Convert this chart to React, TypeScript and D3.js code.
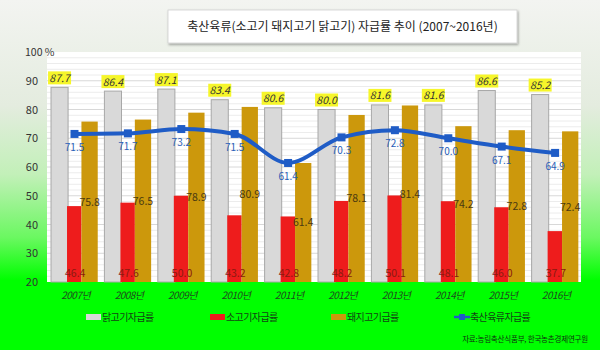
import React from 'react';
import * as d3 from 'd3';

const years = ['2007년', '2008년', '2009년', '2010년', '2011년', '2012년', '2013년', '2014년', '2015년', '2016년'];
const chicken = [87.7, 86.4, 87.1, 83.4, 80.6, 80.0, 81.6, 81.6, 86.6, 85.2];
const beef = [46.4, 47.6, 50.0, 43.2, 42.8, 48.2, 50.1, 48.1, 46.0, 37.7];
const pork = [75.8, 76.5, 78.9, 80.9, 61.4, 78.1, 81.4, 74.2, 72.8, 72.4];
const total = [71.5, 71.7, 73.2, 71.5, 61.4, 70.3, 72.8, 70.0, 67.1, 64.9];
const yTicks = [20, 30, 40, 50, 60, 70, 80, 90, 100];
const legendNames = ['닭고기자급률', '소고기자급률', '돼지고기급률', '축산육류자급률'];
const title = '축산육류(소고기 돼지고기 닭고기) 자급률 추이 (2007~2016년)';
const source = '자료:농림축산식품부, 한국농촌경제연구원';

const FONT = '"Noto Sans CJK KR", "Noto Sans", sans-serif';
const C_GRAY = '#d9d9d9';
const C_RED = '#ee1c1c';
const C_GOLD = '#cc980c';
const C_BLUE = '#1f5cc6';

export default function App() {
  const W = 600, H = 356;
  const left = 47, right = 581, top = 52, bottom = 282;
  const x = d3.scaleBand<string>().domain(years).range([left, right]).padding(0);
  const y = d3.scaleLinear().domain([20, 100]).range([bottom, top]);
  const bw = x.bandwidth();
  const grayOff = bw * 0.075, grayW = bw * 0.32;
  const redOff = bw * 0.375, redW = bw * 0.27;
  const goldOff = bw * 0.645, goldW = bw * 0.305;
  const lineOff = bw * 0.515;
  const gridVals = d3.range(22, 100, 2);
  const line = d3.line<number>()
    .x((_, i) => (x(years[i]) as number) + lineOff)
    .y((d) => y(d))
    .curve(d3.curveMonotoneX);

  const legendX = [86, 210, 331, 454];
  const legendColors = [C_GRAY, C_RED, C_GOLD];

  return (
    <svg width={W} height={H} style={{ display: 'block', position: 'absolute', left: 0, top: 0 }} fontFamily={FONT}>
      <defs>
        <linearGradient id="bg" x1="0" y1="0" x2="0" y2="1">
          <stop offset="0%" stopColor="#f3f4f1" />
          <stop offset="30%" stopColor="#e4ecdf" />
          <stop offset="50%" stopColor="#c2f0b8" />
          <stop offset="68%" stopColor="#6af860" />
          <stop offset="80%" stopColor="#00ff00" />
          <stop offset="100%" stopColor="#00ff00" />
        </linearGradient>
        <filter id="sh" x="-5%" y="-20%" width="110%" height="150%">
          <feDropShadow dx="1" dy="1.5" stdDeviation="1.2" floodColor="#000" floodOpacity="0.35" />
        </filter>
      </defs>
      <rect x={0} y={0} width={W} height={H} fill="#ffffff" />
      <rect x={0} y={0} width={W} height={350} fill="url(#bg)" />
      {/* plot area */}
      <rect x={left} y={top} width={right - left} height={bottom - top} fill="#ffffff" />
      {gridVals.map((v) => (
        <line key={v} x1={left} x2={right} y1={y(v)} y2={y(v)} stroke={v % 10 === 0 ? '#d8d8d8' : '#ececec'} strokeWidth={1} />
      ))}
      {/* title */}
      <rect x={168} y={10} width={349} height={33} fill="#ffffff" stroke="#d0d0d0" strokeWidth={0.8} filter="url(#sh)" />
      <text x={342.5} y={30.5} textAnchor="middle" fontSize={12} fill="#222">{title}</text>
      {/* y axis labels */}
      {yTicks.map((t) => (
        t === 100 ? (
          <text key={t} x={25} y={y(t) + 4} fontSize={10.5} fill="#333">100 %</text>
        ) : (
          <text key={t} x={38} y={y(t) + 4} textAnchor="end" fontSize={11} fill="#333">{t}</text>
        )
      ))}
      {/* bars */}
      {years.map((yr, i) => {
        const bx = x(yr) as number;
        return (
          <g key={yr}>
            <rect x={bx + grayOff} y={y(chicken[i])} width={grayW} height={bottom - y(chicken[i])} fill={C_GRAY} stroke="#a8a8a8" strokeWidth={1} />
            <rect x={bx + redOff} y={y(beef[i])} width={redW} height={bottom - y(beef[i])} fill={C_RED} />
            <rect x={bx + goldOff} y={y(pork[i])} width={goldW} height={bottom - y(pork[i])} fill={C_GOLD} />
          </g>
        );
      })}
      {/* line */}
      <path d={line(total) || ''} fill="none" stroke={C_BLUE} strokeWidth={4} />
      {total.map((v, i) => {
        const px = (x(years[i]) as number) + lineOff;
        return <rect key={i} x={px - 4} y={y(v) - 4} width={8} height={8} fill={C_BLUE} />;
      })}
      {/* labels */}
      {years.map((yr, i) => {
        const bx = x(yr) as number;
        const gx = bx + grayOff + grayW / 2;
        const rx = bx + redOff + redW / 2;
        const ox = bx + goldOff + goldW / 2;
        const lx = bx + lineOff;
        return (
          <g key={'l' + yr}>
            <rect x={gx - 11.5} y={y(chicken[i]) - 16} width={23} height={13} fill="#f6f62a" />
            <text x={gx} y={y(chicken[i]) - 5.5} textAnchor="middle" fontSize={10.5} fontStyle="italic" fill="#333">{chicken[i].toFixed(1)}</text>
            <text x={rx + 1} y={277} textAnchor="middle" fontSize={10.5} fill="#8a1a10">{beef[i].toFixed(1)}</text>
            <text x={ox} y={(bottom + y(pork[i])) / 2 + 4} textAnchor="middle" fontSize={10.5} fill="#4a3a10">{pork[i].toFixed(1)}</text>
            <text x={lx} y={y(total[i]) + 17} textAnchor="middle" fontSize={10} fill="#2a60b8">{total[i].toFixed(1)}</text>
            <text x={bx + bw / 2 + 2} y={299} textAnchor="middle" fontSize={10} fontStyle="italic" fill="#1f4a1f" letterSpacing={-0.5}>{yr}</text>
          </g>
        );
      })}
      {/* legend */}
      {legendNames.map((n, i) => (
        <g key={n}>
          {i < 3 ? (
            <rect x={legendX[i]} y={314} width={15} height={6} fill={legendColors[i]} />
          ) : (
            <g>
              <line x1={legendX[i]} x2={legendX[i] + 16} y1={317} y2={317} stroke={C_BLUE} strokeWidth={2.5} />
              <rect x={legendX[i] + 5} y={314} width={6} height={6} fill={C_BLUE} />
            </g>
          )}
          <text x={legendX[i] + 16} y={321} fontSize={10} fill="#144414" letterSpacing={-0.6}>{n}</text>
        </g>
      ))}
      <text x={588} y={342} textAnchor="end" fontSize={7.5} fill="#103010" letterSpacing={-0.2}>{source}</text>
    </svg>
  );
}
